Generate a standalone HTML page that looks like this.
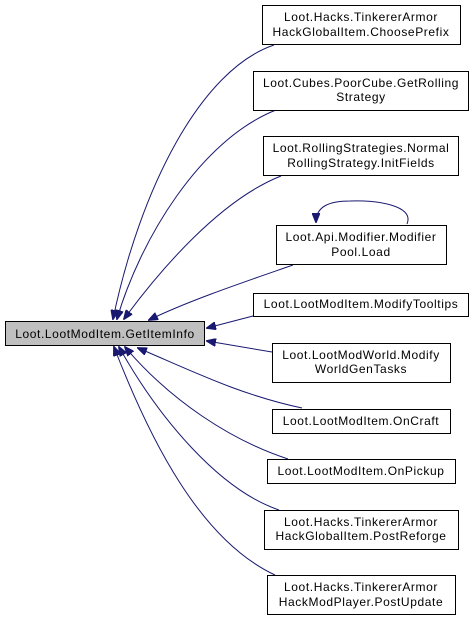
<!DOCTYPE html>
<html><head><style>
body{margin:0;background:#fff;}
svg{display:block;}
text{font-family:"Liberation Sans",sans-serif;font-size:12px;letter-spacing:0.6px;fill:#000;}
</style></head><body>
<svg width="475" height="621" viewBox="0 0 475 621" xmlns="http://www.w3.org/2000/svg">
<defs><marker id="a" markerWidth="10" markerHeight="8" refX="9" refY="4" orient="auto" markerUnits="userSpaceOnUse"><path d="M0,0 L10,4 L0,8 Z" fill="#191970" stroke="#191970"/></marker></defs>
<g fill="none" stroke="#191970" stroke-width="1" marker-end="url(#a)">
<path d="M274,45 C200,70 140,190 113,319"/>
<path d="M276,110 C200,140 140,240 117,319"/>
<path d="M281,176 C220,200 160,270 124,319"/>
<path d="M293,265 C250,280 190,300 149,320"/>
<path d="M253,316 L207,328"/>
<path d="M272,352 L207,341"/>
<path d="M302,408 C240,395 190,370 138,348"/>
<path d="M288,459 C230,440 170,400 125,347"/>
<path d="M279,510 C220,490 160,420 119,347"/>
<path d="M275,575 C200,540 150,440 114,347"/>
<path d="M407,224 C415,205 375,200 350,201 C330,201 316,206 316,222"/>
</g>
<g stroke="#000" stroke-width="1">
<rect x="5.5" y="321.5" width="199" height="24" fill="#bfbfbf"/>
<rect x="262.5" y="5.5" width="198" height="39" fill="#fff"/>
<rect x="253.5" y="71.5" width="215" height="39" fill="#fff"/>
<rect x="263.5" y="136.5" width="195" height="39" fill="#fff"/>
<rect x="276.5" y="225.5" width="170" height="39" fill="#fff"/>
<rect x="253.5" y="293.5" width="215" height="23" fill="#fff"/>
<rect x="272.5" y="343.5" width="178" height="39" fill="#fff"/>
<rect x="272.5" y="409.5" width="178" height="24" fill="#fff"/>
<rect x="267.5" y="459.5" width="188" height="24" fill="#fff"/>
<rect x="264.5" y="510.5" width="194" height="39" fill="#fff"/>
<rect x="267.5" y="575.5" width="188" height="39" fill="#fff"/>
</g>
<g text-anchor="middle">
<text x="105" y="338">Loot.LootModItem.GetItemInfo</text>
<text x="361" y="21">Loot.Hacks.TinkererArmor</text><text x="361" y="36">HackGlobalItem.ChoosePrefix</text>
<text x="361" y="87">Loot.Cubes.PoorCube.GetRolling</text><text x="361" y="101">Strategy</text>
<text x="361" y="152">Loot.RollingStrategies.Normal</text><text x="361" y="167">RollingStrategy.InitFields</text>
<text x="361" y="241">Loot.Api.Modifier.Modifier</text><text x="361" y="256">Pool.Load</text>
<text x="361" y="308">Loot.LootModItem.ModifyTooltips</text>
<text x="361" y="359">Loot.LootModWorld.Modify</text><text x="361" y="373">WorldGenTasks</text>
<text x="361" y="425">Loot.LootModItem.OnCraft</text>
<text x="361" y="475">Loot.LootModItem.OnPickup</text>
<text x="361" y="526">Loot.Hacks.TinkererArmor</text><text x="361" y="540">HackGlobalItem.PostReforge</text>
<text x="361" y="591">Loot.Hacks.TinkererArmor</text><text x="361" y="606">HackModPlayer.PostUpdate</text>
</g>
</svg>
</body></html>
